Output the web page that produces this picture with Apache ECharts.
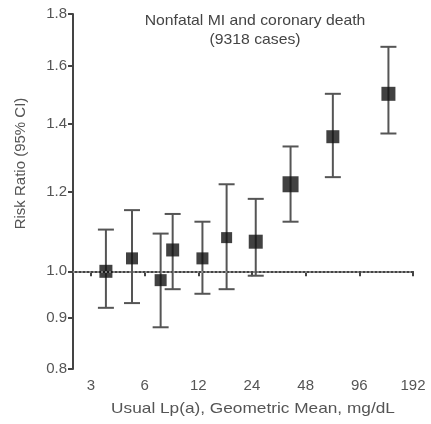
<!DOCTYPE html>
<html>
<head>
<meta charset="utf-8">
<script src="https://cdn.jsdelivr.net/npm/echarts@6/dist/echarts.min.js"></script>
<style>
  html, body { margin: 0; padding: 0; background: #fff; }
  #chart { width: 431px; height: 424px; }
</style>
</head>
<body>
<div id="chart"></div>
<script>
// Usual Lp(a) geometric mean per group (mg/dL)
const lpa = [3.64, 5.1, 7.38, 8.62, 12.66, 17.3, 25.2, 39.5, 68.2, 139.8];
// Risk ratio and 95% CI bounds per group
const rr    = [1.00, 1.03, 0.98, 1.05, 1.03, 1.08, 1.07, 1.22, 1.36, 1.50];
const lower = [0.92, 0.93, 0.88, 0.96, 0.95, 0.96, 0.99, 1.12, 1.24, 1.37];
const upper = [1.10, 1.15, 1.09, 1.14, 1.12, 1.22, 1.18, 1.33, 1.50, 1.67];
// Axis tick labels
const xTicks = [3, 6, 12, 24, 48, 96, 192];
const yTicks = [0.8, 0.9, 1.0, 1.2, 1.4, 1.6, 1.8];
const refRatio = 1.0;

// Marker side lengths (px)
const markerSizes = [13, 12, 12, 13, 12, 11, 14, 16, 13, 14];

const FONT = '"Liberation Sans", Arial, sans-serif';
const AXIS_COLOR = '#444';
const TEXT_COLOR = '#555';
const BAR_COLOR = '#555';

// Both axes are logarithmic: x in log2 space, y in natural-log space
const lx = v => Math.log2(v);
const ly = v => Math.log(v);

const chart = echarts.init(document.getElementById('chart'));

const barData = lpa.map((x, i) => [lx(x), ly(lower[i]), ly(upper[i])]);
const pointData = lpa.map((x, i) => ({
  value: [lx(x), ly(rr[i])],
  symbolSize: markerSizes[i]
}));

chart.setOption({
  animation: false,
  grid: { left: 73, right: 18, top: 14, bottom: 55 },
  xAxis: {
    type: 'value',
    min: lx(2.38),
    max: lx(192),
    axisLine: { show: true, lineStyle: { color: AXIS_COLOR, width: 2 } },
    axisTick: {
      show: true, length: 5, inside: false,
      customValues: xTicks.map(lx),
      lineStyle: { color: AXIS_COLOR, width: 2 }
    },
    axisLabel: {
      customValues: xTicks.map(lx),
      formatter: v => String(Math.round(Math.pow(2, v))),
      color: TEXT_COLOR, fontFamily: FONT, fontSize: 15, margin: 9
    },
    splitLine: { show: false }
  },
  yAxis: {
    type: 'value',
    min: ly(0.8),
    max: ly(1.8),
    name: 'Risk Ratio (95% CI)',
    nameLocation: 'middle',
    nameRotate: 90,
    nameGap: 45,
    nameTextStyle: {
      color: TEXT_COLOR, fontFamily: FONT, fontSize: 15,
      padding: [0, 0, 0, 56]
    },
    axisLine: { show: true, lineStyle: { color: AXIS_COLOR, width: 2 } },
    axisTick: {
      show: true, length: 5, inside: false,
      customValues: yTicks.map(ly),
      lineStyle: { color: AXIS_COLOR, width: 2 }
    },
    axisLabel: {
      customValues: yTicks.map(ly),
      formatter: v => Math.exp(v).toFixed(1),
      color: TEXT_COLOR, fontFamily: FONT, fontSize: 15, margin: 6
    },
    splitLine: { show: false }
  },
  graphic: [
    {
      type: 'text',
      x: 255, y: 11,
      scaleX: 1.05,
      style: {
        text: 'Nonfatal MI and coronary death\n(9318 cases)',
        fill: '#444', font: '15px ' + FONT,
        align: 'center', verticalAlign: 'top',
        lineHeight: 19
      }
    },
    {
      type: 'text',
      x: 253, y: 409,
      scaleX: 1.15,
      style: {
        text: 'Usual Lp(a), Geometric Mean, mg/dL',
        fill: TEXT_COLOR, font: '15px ' + FONT,
        align: 'center', verticalAlign: 'middle'
      }
    }
  ],
  series: [
    {
      type: 'line',
      data: [],
      silent: true,
      markLine: {
        symbol: 'none',
        silent: true,
        label: { show: false },
        lineStyle: { type: [2, 2], color: '#999', width: 1.5 },
        data: [{ yAxis: ly(refRatio) }]
      }
    },
    {
      type: 'custom',
      data: barData,
      z: 3,
      renderItem: (params, api) => {
        const x = api.value(0);
        const lo = api.coord([x, api.value(1)]);
        const hi = api.coord([x, api.value(2)]);
        const half = 8;
        const w = 2;
        return {
          type: 'group',
          children: [
            { type: 'rect', shape: { x: lo[0] - w / 2, y: hi[1], width: w, height: lo[1] - hi[1] }, style: { fill: BAR_COLOR } },
            { type: 'rect', shape: { x: hi[0] - half, y: hi[1] - w / 2, width: half * 2, height: w }, style: { fill: BAR_COLOR } },
            { type: 'rect', shape: { x: lo[0] - half, y: lo[1] - w / 2, width: half * 2, height: w }, style: { fill: BAR_COLOR } }
          ]
        };
      }
    },
    {
      type: 'scatter',
      data: pointData,
      symbol: 'rect',
      z: 4,
      itemStyle: { color: '#111' }
    }
  ]
});
</script>
</body>
</html>
